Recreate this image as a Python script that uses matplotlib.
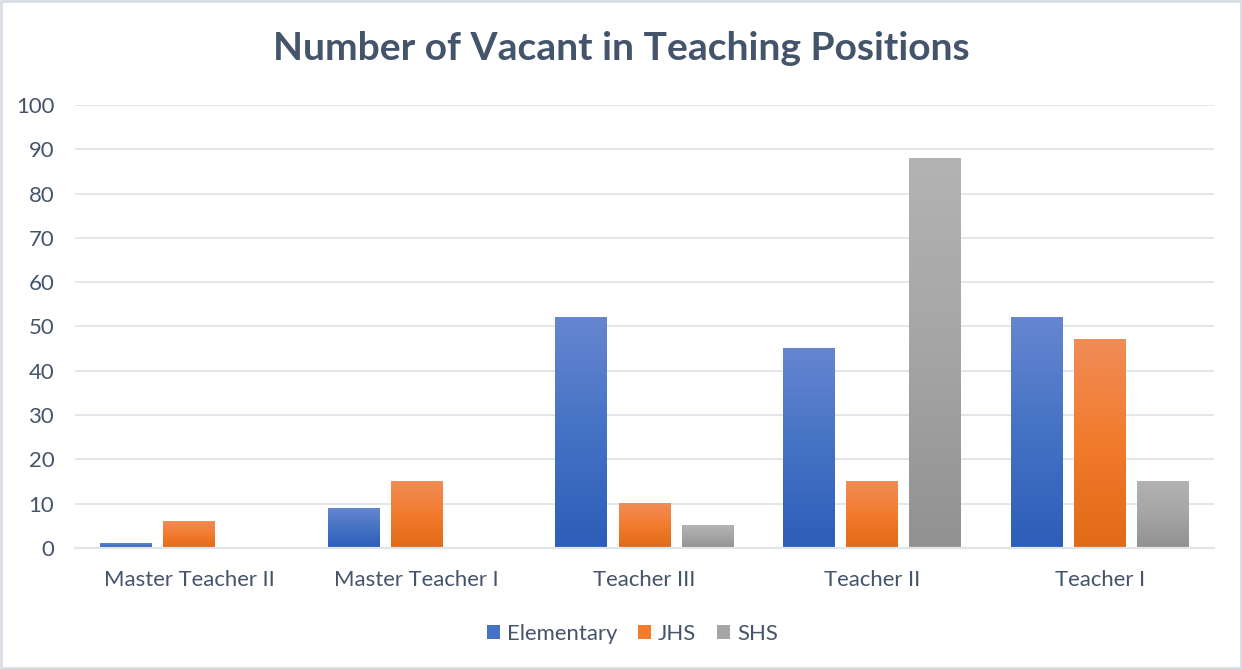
import matplotlib.pyplot as plt
import matplotlib as mpl
import numpy as np
from matplotlib.colors import LinearSegmentedColormap
from matplotlib.patches import Rectangle, Patch

categories = ["Master Teacher II", "Master Teacher I", "Teacher III", "Teacher II", "Teacher I"]
series_names = ["Elementary", "JHS", "SHS"]
elementary = [1, 9, 52, 45, 52]
jhs = [6, 15, 10, 15, 47]
shs = [0, 0, 5, 88, 15]
y_ticks = [0, 10, 20, 30, 40, 50, 60, 70, 80, 90, 100]

# (top, middle, bottom) colours of the Excel-like gradient fill
gradients = [
    ("#6686D0", "#4472C4", "#2C5DB8"),
    ("#F08C57", "#F27B2C", "#E06A17"),
    ("#B3B3B3", "#A5A5A5", "#919191"),
]

mpl.rcParams["font.family"] = ["Lato", "DejaVu Sans"]
text_color = "#44546A"
grid_color = "#E1E4E8"

fig = plt.figure(figsize=(12.42, 6.69), dpi=100)
ax = fig.add_axes([0.0604, 0.1809, 0.9171, 0.6622])

x = np.arange(len(categories))
width = 0.228
step = 0.277
grad = np.linspace(0, 1, 256).reshape(-1, 1)

for i, (vals, cols) in enumerate(zip([elementary, jhs, shs], gradients)):
    cmap = LinearSegmentedColormap.from_list(f"g{i}", [cols[2], cols[1], cols[0]])
    offs = x + (i - 1) * step
    bars = ax.bar(offs, vals, width=width, color=cols[1], zorder=2)
    for b in bars:
        h = b.get_height()
        if h <= 0:
            continue
        x0 = b.get_x()
        ax.imshow(grad, cmap=cmap, origin="lower", aspect="auto",
                  extent=[x0, x0 + width, 0, h], zorder=3)

ax.set_xlim(-0.5, len(categories) - 0.5)
ax.set_ylim(0, 100)
ax.set_yticks(y_ticks)
ax.set_xticks(x)
ax.set_xticklabels(categories)
ax.tick_params(axis="both", length=0, labelsize=15.9, colors=text_color)
ax.tick_params(axis="x", pad=16)
ax.tick_params(axis="y", pad=15)
ax.yaxis.grid(True, color=grid_color, linewidth=1.3, zorder=0)
ax.set_axisbelow(True)
for s in ["top", "right", "left"]:
    ax.spines[s].set_visible(False)
ax.spines["bottom"].set_color(grid_color)
ax.spines["bottom"].set_linewidth(1.6)
ax.spines["bottom"].set_zorder(4)

fig.text(0.5, 0.928, "Number of Vacant in Teaching Positions", ha="center", va="center",
         fontsize=28.1, fontweight="bold", color=text_color)

handles = [Patch(facecolor=c[1], label=n) for n, c in zip(series_names, gradients)]
fig.legend(handles=handles, loc="center", bbox_to_anchor=(0.509, 0.052), ncol=3, frameon=False,
           fontsize=15.9, labelcolor=text_color, handlelength=0.6, handleheight=0.6,
           handletextpad=0.3, columnspacing=0.95)

fig.patches.append(Rectangle((0.001, 0.001), 0.998, 0.998, transform=fig.transFigure,
                             fill=False, edgecolor="#D9DEE5", linewidth=2))

fig.savefig("out.png", dpi=100)
